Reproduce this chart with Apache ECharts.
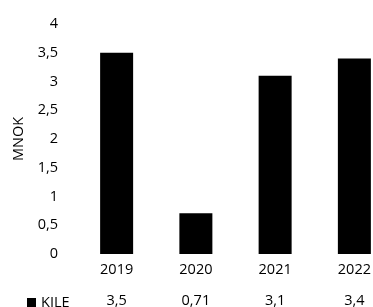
<!DOCTYPE html>
<html><head><meta charset="utf-8">
<script src="https://cdn.jsdelivr.net/npm/echarts@6/dist/echarts.min.js"></script>
<style>html,body{margin:0;padding:0;background:#fff}#c{width:373px;height:307px}</style>
</head><body><div id="c"></div>
<script>
const categories = ['2019', '2020', '2021', '2022'];
const kileValues = [3.5, 0.71, 3.1, 3.4];
const seriesName = 'KILE';
const yTicks = [0, 0.5, 1, 1.5, 2, 2.5, 3, 3.5, 4];
const fmt = v => String(v).replace('.', ',');
const FONT = 'Open Sans';
const FS = 14.5;
const chart = echarts.init(document.getElementById('c'));
chart.setOption({
  animation: false,
  textStyle: { fontFamily: FONT },
  grid: { left: 77, width: 317, top: 24, bottom: 53, outerBoundsMode: 'none', containLabel: false },
  legend: {
    data: [seriesName], left: 22, top: 290, icon: 'rect', itemWidth: 9, itemHeight: 9, itemGap: 5,
    textStyle: { fontFamily: FONT, fontSize: FS, color: '#000' }
  },
  xAxis: [{
    type: 'category', data: categories,
    axisLine: { show: false }, axisTick: { show: false },
    axisLabel: { margin: 8, fontSize: FS, color: '#000', fontFamily: FONT }
  }, {
    type: 'category', data: kileValues.map(fmt), position: 'bottom', offset: 31,
    axisLine: { show: false }, axisTick: { show: false },
    axisLabel: { margin: 8, fontSize: FS, color: '#000', fontFamily: FONT }
  }],
  yAxis: {
    type: 'value', min: yTicks[0], max: yTicks[yTicks.length - 1], interval: 0.5,
    name: 'MNOK', nameLocation: 'middle', nameGap: 45, nameRotate: 90,
    nameTextStyle: { fontSize: FS, color: '#000', fontFamily: FONT },
    splitLine: { show: false }, axisLine: { show: false }, axisTick: { show: false },
    axisLabel: { margin: 19, fontSize: FS, color: '#000', fontFamily: FONT, formatter: fmt }
  },
  series: [{
    name: seriesName, type: 'bar', data: kileValues, xAxisIndex: 0,
    barWidth: 33, itemStyle: { color: '#000' }
  }]
});
</script></body></html>
